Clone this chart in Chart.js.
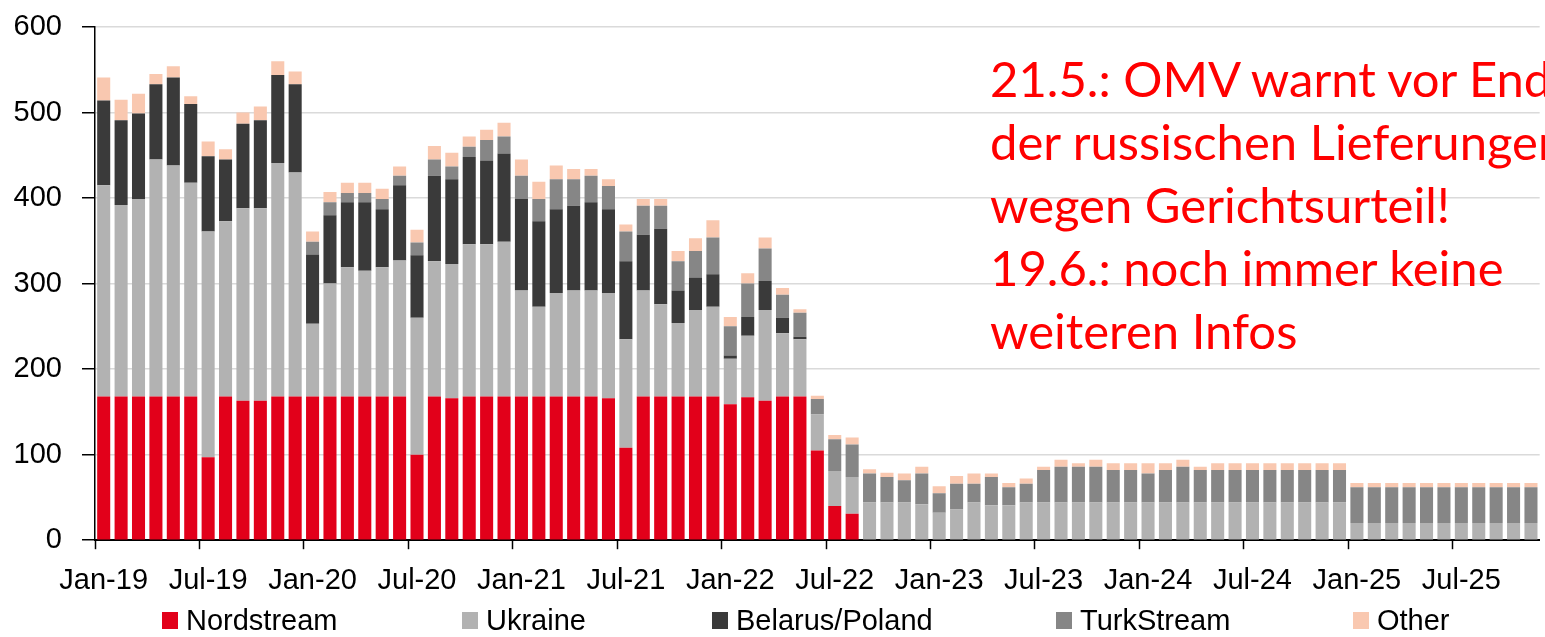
<!DOCTYPE html>
<html>
<head>
<meta charset="utf-8">
<script src="https://cdn.jsdelivr.net/npm/chart.js@4/dist/chart.umd.min.js"></script>
<style>
  html, body { margin: 0; padding: 0; background: #fff; overflow: hidden; }
  #wrap { position: relative; width: 1545px; height: 637px; overflow: hidden; }
  #note {
    position: absolute; left: 990px; top: 47px;
    font-family: Lato, "Open Sans", sans-serif; font-size: 49px; line-height: 63px;
    color: #ff0000; white-space: pre;
  }
  #legend { position: absolute; left: 0; top: 603px; width: 1545px; height: 34px; }
  .item { position: absolute; top: 0; display: flex; align-items: center; height: 34px;
    font-family: "Liberation Sans", Arial, sans-serif; font-size: 29px; color: #000; }
  .box { width: 16px; height: 17px; margin-right: 8px; }
</style>
</head>
<body>
<div id="wrap">
  <canvas id="chart" width="1545" height="637"></canvas>
  <div id="note">21.5.: OMV warnt vor Ende
der russischen Lieferungen
wegen Gerichtsurteil!
19.6.: noch immer keine
weiteren Infos</div>
  <div id="legend"></div>
</div>
<script>
// months Jan-19 .. Nov-25
const monthNames = ['Jan', 'Feb', 'Mar', 'Apr', 'May', 'Jun', 'Jul', 'Aug', 'Sep', 'Oct', 'Nov', 'Dec'];
const years = ['19', '20', '21', '22', '23', '24', '25'];
const months = [];
years.forEach(y => monthNames.forEach(m => months.push(m + '-' + y)));
months.length = 83;

const nordstream = [
  168, 168, 168, 168, 168, 168, 97, 168, 163, 163, 168, 168,
  168, 168, 168, 168, 168, 168, 100, 168, 166, 168, 168, 168,
  168, 168, 168, 168, 168, 166, 108, 168, 168, 168, 168, 168,
  159, 167, 163, 168, 168, 105, 40, 31, 0, 0, 0, 0,
  0, 0, 0, 0, 0, 0, 0, 0, 0, 0, 0, 0,
  0, 0, 0, 0, 0, 0, 0, 0, 0, 0, 0, 0,
  0, 0, 0, 0, 0, 0, 0, 0, 0, 0, 0
];
const ukraine = [
  247, 224, 231, 277, 270, 250, 264, 205, 225, 225, 273, 262,
  85, 132, 151, 147, 151, 159, 160, 158, 157, 178, 178, 181,
  124, 105, 121, 124, 124, 123, 127, 124, 108, 86, 101, 105,
  53, 72, 106, 74, 67, 42, 41, 43, 44, 44, 44, 42,
  32, 36, 44, 41, 41, 44, 44, 44, 44, 44, 44, 44,
  44, 44, 44, 44, 44, 44, 44, 44, 44, 44, 44, 44,
  20, 20, 20, 20, 20, 20, 20, 20, 20, 20, 20
];
const belarusPoland = [
  99, 99, 100, 88, 103, 92, 88, 72, 99, 103, 103, 103,
  81, 80, 76, 80, 68, 88, 73, 100, 99, 102, 98, 103,
  107, 100, 98, 99, 103, 98, 91, 65, 88, 38, 38, 38,
  4, 22, 34, 18, 3, 0, 0, 0, 0, 0, 0, 0,
  0, 0, 0, 0, 0, 0, 0, 0, 0, 0, 0, 0,
  0, 0, 0, 0, 0, 0, 0, 0, 0, 0, 0, 0,
  0, 0, 0, 0, 0, 0, 0, 0, 0, 0, 0
];
const turkStream = [
  0, 0, 0, 0, 0, 0, 0, 0, 0, 0, 0, 0,
  15, 15, 11, 11, 12, 11, 15, 19, 15, 12, 24, 20,
  27, 26, 35, 31, 31, 27, 35, 34, 27, 34, 31, 43,
  34, 39, 38, 27, 28, 18, 37, 38, 34, 30, 26, 36,
  23, 30, 22, 33, 21, 22, 38, 42, 42, 42, 38, 38,
  34, 38, 42, 38, 38, 38, 38, 38, 38, 38, 38, 38,
  42, 42, 42, 42, 42, 42, 42, 42, 42, 42, 42
];
const other = [
  27, 24, 23, 12, 13, 9, 17, 12, 13, 16, 16, 15,
  12, 12, 12, 12, 12, 11, 15, 16, 16, 12, 12, 16,
  19, 20, 16, 12, 8, 8, 8, 8, 8, 12, 15, 20,
  11, 12, 13, 8, 4, 4, 5, 8, 5, 5, 8, 8,
  8, 9, 12, 4, 5, 6, 4, 8, 4, 8, 8, 8,
  12, 8, 8, 4, 8, 8, 8, 8, 8, 8, 8, 8,
  5, 5, 5, 5, 5, 5, 5, 5, 5, 5, 5
];
const yTicks = [0, 100, 200, 300, 400, 500, 600];

const series = [
  { label: 'Nordstream', data: nordstream, color: '#e2001a' },
  { label: 'Ukraine', data: ukraine, color: '#b2b2b2' },
  { label: 'Belarus/Poland', data: belarusPoland, color: '#3a3a3a' },
  { label: 'TurkStream', data: turkStream, color: '#868686' },
  { label: 'Other', data: other, color: '#f9c8b0' }
];

new Chart(document.getElementById('chart'), {
  type: 'bar',
  data: {
    labels: months,
    datasets: series.map(s => ({
      label: s.label,
      data: s.data,
      backgroundColor: s.color,
      borderWidth: 0,
      stack: 'gas',
      categoryPercentage: 1,
      barPercentage: 0.75
    }))
  },
  options: {
    responsive: false,
    animation: false,
    layout: { padding: { left: 13, right: 5, top: 27, bottom: 25 } },
    plugins: { legend: { display: false }, tooltip: { enabled: false } },
    scales: {
      x: {
        stacked: true,
        border: { color: '#000', width: 2 },
        grid: {
          offset: true,
          drawOnChartArea: false,
          tickLength: 9,
          tickWidth: 1.5,
          tickColor: ctx => (ctx.index % 6 === 0 ? '#000' : 'rgba(0,0,0,0)')
        },
        ticks: {
          autoSkip: false,
          maxRotation: 0,
          padding: 14,
          color: '#000',
          font: { family: '"Liberation Sans", Arial', size: 29 },
          callback: (v, i) => (i % 6 === 0 ? months[i] : '')
        }
      },
      y: {
        stacked: true,
        min: 0,
        max: 600,
        afterBuildTicks: axis => { axis.ticks = yTicks.map(v => ({ value: v })); },
        afterFit: axis => { axis.width = 82; axis.paddingTop = 0; axis.paddingBottom = 0; },
        border: { color: '#000', width: 1.5 },
        grid: { color: '#dadada', lineWidth: 1.5, tickColor: '#000', tickLength: 13 },
        ticks: {
          padding: 20,
          color: '#000',
          font: { family: '"Liberation Sans", Arial', size: 29 }
        }
      }
    }
  }
});

// legend below the axis
const legendLeft = [162, 462, 712, 1056, 1353];
const legend = document.getElementById('legend');
series.forEach((s, i) => {
  const it = document.createElement('div');
  it.className = 'item';
  it.style.left = legendLeft[i] + 'px';
  it.innerHTML = '<span class="box" style="background:' + s.color + '"></span>' + s.label;
  legend.appendChild(it);
});
</script>
</body>
</html>
